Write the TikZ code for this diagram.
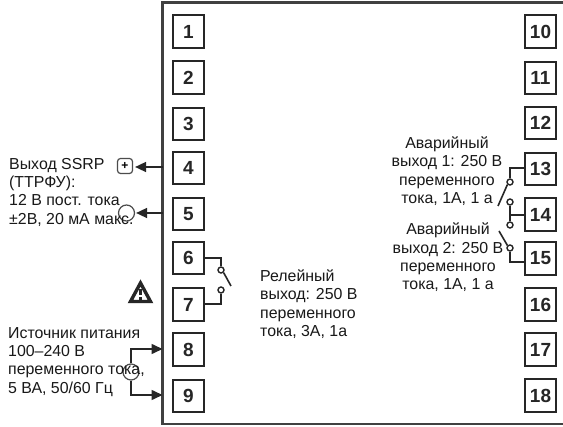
\documentclass[tikz,border=0pt]{standalone}
\usepackage{fontspec}
\setmainfont{Liberation Sans}
\usetikzlibrary{arrows.meta}
\tikzset{
  term/.style={draw=black!85,line width=1.9pt,minimum width=31pt,minimum height=32.5pt,inner sep=0pt,font=\fontsize{19}{19}\selectfont\bfseries,text=black!85},
  lbl/.style={inner sep=0pt,font=\fontsize{15.9}{18.3}\selectfont,text=black!90},
  wire/.style={draw=black!85,line width=1.6pt},
  contact/.style={circle,draw=black!85,line width=1.4pt,minimum size=6pt,inner sep=0pt,fill=white},
  src/.style={circle,draw=black!70,line width=1.2pt,minimum size=16pt,inner sep=0pt},
  tip/.style={-{Triangle[length=11pt,width=10pt]}},
}
\begin{document}
\begin{tikzpicture}[x=1pt,y=-1pt]
\useasboundingbox (0,0) rectangle (563,427);
\fill[white] (0,0) rectangle (563,427);
% housing
\draw[draw=black!75,line width=2.2pt] (563,2.5) -- (162.5,2.5) -- (162.5,424) -- (563,424);
% terminals
\foreach \n/\y in {1/31.5,2/77.5,3/124,4/168,5/214,6/258,7/304.5,8/349.5,9/396}
  \node[term] (t\n) at (188.5,\y) {\n};
\foreach \n/\y in {10/31.5,11/78,12/123,13/169,14/214.5,15/258.5,16/304.5,17/349.5,18/395.5}
  \node[term] (t\n) at (540.5,\y) {\n};
% SSR output
\coordinate (w4) at (162.5,167);
\coordinate (w5) at (162.5,213);
\node[draw=black!70,line width=1.2pt,rounded corners=3pt,minimum size=15pt,inner sep=0pt,font=\fontsize{12}{12}\selectfont\bfseries] (plus) at (125,166) {+};
\node[src] (minus) at (126.5,213) {};
\draw[wire,tip,shorten >=2pt] (w4) -- (plus.east |- w4);
\draw[wire,tip,shorten >=1pt] (w5) -- (minus);
\node[lbl,anchor=north west,align=left] (ssr) at (9,158) {Выход SSRP\\(ТТРФУ):\\12 В пост. тока\\±2В, 20 мА макс.};
% Relay
\node[contact] (c6) at (221,270) {};
\node[contact] (c7) at (221,290) {};
\coordinate (b6) at (231,286);
\draw[wire] (t6.east |- 0,258) -| (c6.north);
\draw[wire] (t7.east |- 0,304) -| (c7.south);
\draw[wire] (c6.south east) -- (b6);
\node[lbl,anchor=north west,align=left] (rel) at (260,269.5) {Релейный\\выход: 250 В\\переменного\\тока, 3А, 1а};
% warning triangle
\draw[draw=black!85,fill=white,line width=3.4pt,line join=miter] (140.5,283) -- (130.5,301.5) -- (150.5,301.5) -- cycle;
\fill[black!85] (139,289) rectangle (142,295.5);
\fill[black!85] (139,297) rectangle (142,300);
% Power
\node[src] (ac) at (131,372) {};
\coordinate (w8) at (162.5,349);
\coordinate (w9) at (162.5,395);
\draw[wire,tip] (ac.north) |- (w8);
\draw[wire,tip] (ac.south) |- (w9);
\node[lbl,anchor=north west,align=left] (pwr) at (8,327) {Источник питания\\100–240 В\\переменного тока,\\5 ВА, 50/60 Гц};
% Alarm contacts
\node[contact] (c13) at (510,182) {};
\node[contact] (c14a) at (510,202) {};
\node[contact] (c14b) at (510,225) {};
\node[contact] (c15) at (510,248) {};
\coordinate (b13) at (498,206);
\coordinate (b15) at (499,231);
\coordinate (j14) at (510,215);
\draw[wire] (t13.west |- 0,168) -| (c13.north);
\draw[wire] (c14a.south) -- (c14b.north);
\draw[wire] (t14.west |- j14) -- (j14);
\draw[wire] (t15.west |- 0,262) -| (c15.south);
\draw[wire] (c13.south west) -- (b13);
\draw[wire] (c15.north west) -- (b15);
\node[lbl,align=center] (al1) at (447,171) {Аварийный\\выход 1: 250 В\\переменного\\тока, 1А, 1 а};
\node[lbl,align=center] (al2) at (448,257.5) {Аварийный\\выход 2: 250 В\\переменного\\тока, 1А, 1 а};
\end{tikzpicture}
\end{document}
